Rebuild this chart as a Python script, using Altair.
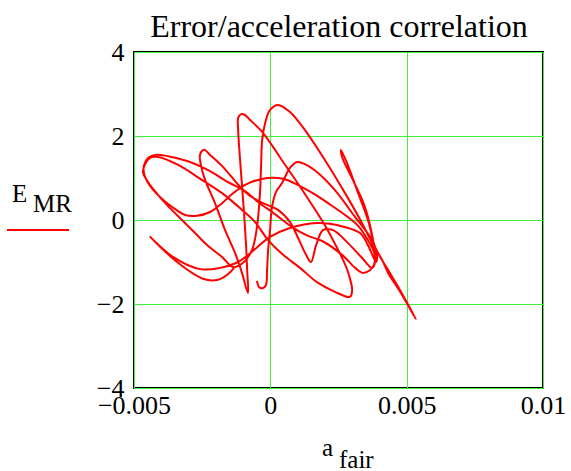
import altair as alt
import pandas as pd

# acceleration values in units of 1e-3, error values
seg_a_x = [-0.49, -0.41, -0.27, -0.16, -0.12, -0.08, -0.01, 0.06, 0.21, 0.43, 0.72, 0.98, 1.27, 1.75, 2.37, 3.11, 3.66, 3.95, 4.32, 4.76, 5.34]
seg_a_y = [-1.45, -1.60, -1.62, -1.55, -1.19, -0.71, -0.24, 0.31, 0.67, 0.88, 1.24, 1.38, 1.33, 1.12, 0.71, 0.07, -0.40, -0.79, -1.19, -1.67, -2.36]

seg_b_x = [4.76, 4.32, 4.10, 3.84, 3.58, 3.22, 2.81, 2.59]
seg_b_y = [-1.71, -1.26, -0.95, -0.64, 0.00, 0.64, 1.36, 1.67]

seg_c_x = [2.63, 3.03, 3.47, 3.77, 3.84, 3.80, 3.66, 3.40]
seg_c_y = [1.50, 0.95, 0.31, -0.48, -0.83, -1.07, -1.19, -1.26]

seg_d_x = [3.11, 2.63, 1.90, 1.38, 0.80, 0.17, -0.45, -0.93, -1.55, -2.28,
           -3.02, -3.75, -4.23, -4.48, -4.63, -4.63, -4.41, -4.05, -3.60, -3.13,
           -2.69, -2.21, -1.77, -1.40, -0.85, -0.12, 0.47, 1.02, 1.60, 2.12,
           2.74, 3.22, 3.58, 3.80, 3.84, 3.73]
seg_d_y = [-1.14, -0.83, -0.50, -0.38, -0.17, 0.14, 0.43, 0.69, 0.90, 1.19,
           1.40, 1.52, 1.55, 1.48, 1.31, 1.10, 0.81, 0.55, 0.31, 0.12,
           0.10, 0.19, 0.40, 0.62, 0.86, 1.00, 0.98, 0.83, 0.62, 0.40,
           0.12, -0.14, -0.48, -0.76, -1.00, -1.14]

seg_e_x = [3.36, 2.85, 2.30, 1.93, 1.68, 1.49, 1.31, 1.02, 0.72, 0.28, -0.27, -0.74,
           -1.11, -1.73,
           -2.21, -2.43, -2.58, -2.54, -2.39, -2.03, -1.66, -1.29, -1.04, -0.82,
           -0.85, -0.89, -0.96, -1.04, -1.11, -1.18, -1.18, -1.07, -0.93, -0.74,
           -0.30, 0.10, 0.47, 0.98, 1.46, 1.93, 2.30, 2.63, 2.85, 3.00,
           2.92, 2.37, 1.71, 1.09, 0.47, -0.08, -0.56, -1.04, -1.77, -2.50,
           -3.38, -4.12, -4.41, -4.59, -4.67, -4.48, -4.12, -3.75, -3.24, -2.76,
           -2.28, -1.77, -1.37]
seg_e_y = [-0.90, -0.55, -0.24, -0.24, -0.60, -1.00, -0.83, -0.43, -0.05, 0.24, 0.40, 0.57,
           0.79, 1.26,
           1.55, 1.67, 1.55, 1.29, 0.95, 0.40, -0.24, -0.79, -1.26, -1.74,
           -1.19, -0.60, 0.12, 0.83, 1.43, 2.14, 2.43, 2.52, 2.50, 2.38,
           2.10, 1.74, 1.38, 0.90, 0.43, -0.05, -0.48, -0.90, -1.24, -1.67,
           -1.83, -1.71, -1.48, -1.14, -0.83, -0.48, -0.05, 0.24, 0.64, 0.95,
           1.31, 1.50, 1.48, 1.33, 1.14, 0.90, 0.60, 0.33, 0.00, -0.31,
           -0.62, -0.88, -1.12]

seg_f_x = [-1.00, -0.67, -0.49, -0.38, -0.34, -0.30, -0.19, -0.01, 0.28, 0.72, 1.27, 2.00, 2.74, 3.36, 3.73, 3.91, 3.88]
seg_f_y = [-1.02, -0.71, -0.17, 0.64, 1.26, 1.90, 2.31, 2.62, 2.74, 2.57, 2.14, 1.43, 0.64, -0.07, -0.55, -0.83, -1.00]

seg_g_x = [3.58, 3.29, 2.45, 1.71, 0.72, -0.01, -0.74, -1.18, -1.84, -2.58, -3.57, -4.41, -3.42, -2.47, -1.95, -1.59, -1.33]
seg_g_y = [-0.60, -0.31, -0.12, -0.07, -0.19, -0.40, -0.79, -1.00, -1.14, -1.17, -0.88, -0.40, -1.00, -1.40, -1.43, -1.31, -1.14]

x_ticks = [-0.005, 0, 0.005, 0.01]
y_ticks = [-4, -2, 0, 2, 4]

xs = seg_a_x + seg_b_x + seg_c_x + seg_d_x + seg_e_x + seg_f_x + seg_g_x
ys = seg_a_y + seg_b_y + seg_c_y + seg_d_y + seg_e_y + seg_f_y + seg_g_y

df = pd.DataFrame({
    "a_fair": [v * 1e-3 for v in xs],
    "E_MR": ys,
    "i": list(range(len(xs))),
})

FONT = "Liberation Serif"
GRID = "#40f040"

axis_common = dict(
    title=None, grid=True, gridColor=GRID, gridWidth=1, gridOpacity=1,
    ticks=False, domain=False, labelFont=FONT, labelFontSize=26,
    labelColor="black", labelFlush=False, labelOverlap=False,
)

line = alt.Chart(df).mark_line(
    color="#ff0000", strokeWidth=2, interpolate="catmull-rom"
).encode(
    x=alt.X("a_fair:Q",
            scale=alt.Scale(domain=[-0.005, 0.01], nice=False, zero=False),
            axis=alt.Axis(values=x_ticks, format="~g", labelPadding=4, **axis_common)),
    y=alt.Y("E_MR:Q",
            scale=alt.Scale(domain=[-4, 4], nice=False, zero=False),
            axis=alt.Axis(values=y_ticks, format="~g", labelPadding=10, **axis_common)),
    order="i:Q",
)

one = pd.DataFrame({"k": [0]})

def label(text, x, y, size, align="left"):
    return alt.Chart(one).mark_text(
        text=text, font=FONT, fontSize=size, color="black",
        align=align, baseline="alphabetic",
    ).encode(x=alt.value(x), y=alt.value(y))

title = label("Error/acceleration correlation", 205, -15, 32, align="center")
e_lab = label("E", -122, 150, 25)
mr_lab = label("MR", -101, 160, 25)
a_lab = label("a", 188, 404, 25)
fair_lab = label("fair", 205, 416, 25)

legend_line = alt.Chart(one).mark_rule(color="#ff0000", strokeWidth=2).encode(
    x=alt.value(-127), x2=alt.value(-65), y=alt.value(178)
)

chart = alt.layer(line, title, e_lab, mr_lab, a_lab, fair_lab, legend_line).properties(
    width=409, height=336,
    padding={"left": 134, "top": 52, "right": 28, "bottom": 83},
    autosize=alt.AutoSizeParams(type="none"),
    background="white",
).configure_view(stroke="black", strokeWidth=2)

chart.save("out.html", embed_options={"renderer": "svg", "actions": False})
